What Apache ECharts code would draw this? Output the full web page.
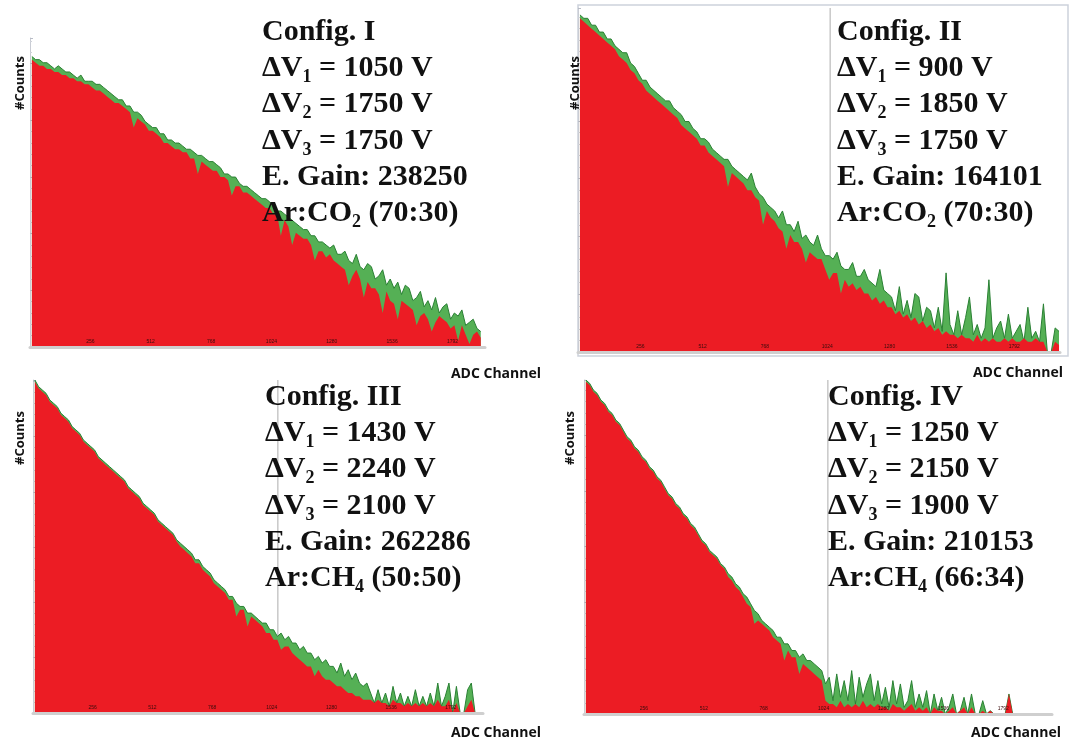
<!DOCTYPE html>
<html><head><meta charset="utf-8">
<script src="https://cdn.jsdelivr.net/npm/echarts@6/dist/echarts.min.js"></script>
<style>html,body{margin:0;padding:0;background:#fff}#c{width:1072px;height:744px}</style>
</head><body><div id="c"></div>
<script>
// ---------- data ----------
const BIN = 16; // ADC channels per histogram bin
const tickLabels = [256, 512, 768, 1024, 1280, 1536, 1792];
const configNames = ['Config. I', 'Config. II', 'Config. III', 'Config. IV'];
const dV1 = ['1050', '900', '1430', '1250'];
const dV2 = ['1750', '1850', '2240', '2150'];
const dV3 = ['1750', '1750', '2100', '1900'];
const gains = ['238250', '164101', '262286', '210153'];
const gasMain = ['Ar:CO', 'Ar:CO', 'Ar:CH', 'Ar:CH'];
const gasSub = ['2', '2', '4', '4'];
const gasRatio = [' (70:30)', ' (70:30)', ' (50:50)', ' (66:34)'];
const cursorChannel = [null, 1036, 1050, 1042];

const green1 = [94,93,93,92,92,91,90,91,90,89, 89,88,87,88,86,86,86,85,85,84, 83,82,81,80,80,78,78,76,76,75,
 73,72,71,71,69,69,67,67,66,66, 65,64,64,63,62,62,61,60,60,59, 58,56,56,55,55,53,52,52,51,50,
 49,48,48,47,46,44,44,43,42,41, 40,39,38,38,36,36,34,34,33,32, 33,30,30,31,28,27,30,26,25,27,
 26,22,23,25,20,22,19,21,17,20, 19,15,16,18,13,15,12,16,11,13, 14,9,11,10,12,7,8,9,6,5];
const red1 = [93,92,91,91,90,90,89,89,88,88, 87,87,86,86,85,85,84,83,83,82, 81,80,79,79,78,77,76,71,74,73,
 72,70,70,69,68,66,66,65,64,64, 63,63,61,61,56,60,59,58,57,57, 55,55,54,49,52,52,50,50,49,48,
 47,46,45,45,43,43,36,41,39,33, 37,36,35,35,33,28,31,31,29,30, 28,27,26,25,20,23,25,22,16,21,
 19,19,17,11,18,15,14,9,15,14, 13,12,7,10,11,9,5,8,10,9, 8,6,7,2,7,4,1,4,5,3];

const green2 = [98,97,97,95,95,93,93,91,91,89, 88,87,87,84,83,81,79,79,77,76, 75,74,73,73,71,70,69,67,67,65,
 64,62,62,61,59,58,57,56,56,54, 53,52,51,50,52,48,46,45,43,42, 41,39,41,37,37,35,38,33,34,32,
 31,34,30,28,28,27,29,25,24,24, 26,22,22,24,21,20,19,24,18,17, 16,12,19,11,15,10,17,16,9,13,
 12,7,13,6,23,8,5,12,5,10, 16,5,8,4,7,21,4,7,9,4, 11,4,6,8,3,13,4,6,3,14, 0,0,7,6];
const red2 = [97,96,95,94,93,92,91,90,89,88, 86,85,84,82,81,79,78,76,75,74, 73,72,71,70,69,68,66,65,64,63,
 62,60,60,58,57,56,55,54,48,52, 51,50,49,47,47,45,44,37,41,39, 38,36,35,30,34,32,32,30,26,29,
 28,27,27,24,21,23,23,17,21,19, 20,18,19,17,17,15,16,14,15,13, 13,11,12,10,11,9,10,8,9,7,
 8,6,7,5,6,5,5,4,5,4, 4,3,5,3,4,3,4,3,3,4, 3,4,3,3,4,3,3,4,3,3, 0,0,3,2];

const green3 = [100,98,97,96,94,93,92,90,89,88, 86,85,84,82,81,80,79,77,76,75, 74,73,72,71,70,68,67,66,65,63,
 62,61,60,58,57,56,55,54,52,51, 50,49,48,46,46,44,43,42,40,39, 38,37,35,35,33,32,32,30,30,29,
 28,27,27,25,25,23,24,22,23,21, 21,19,20,18,18,16,17,15,16,14, 14,12,15,11,13,10,12,9,8,9,
 6,3,7,3,6,2,8,3,6,2, 5,2,7,2,5,2,6,2,9,2, 5,9,0,8,0,0,7,9,0];
const red3 = [99.5,97.5,96.5,95.5,93.5,92.5,91.5,89.5,88.5,87.5, 85.5,84.5,83.5,81.5,80.5,79.5,78.5,76.5,75.5,74.5,
 73.5,72.5,71.5,70.5,69.5,67.5,66.5,65.5,64.5,62.5, 61.5,60.5,59.5,57.5,56.5,55.5,54.5,53.5,51.5,50,
 49,48,47,45,45,43,42,41,39,38, 37,36,34,34,29,31,31,26,29,28,
 27,26,24,24,22,22,19,20,20,18, 17,16,15,14,14,11,13,11,10,10, 9,8,8,7,6,6,5,5,4,4,
 4,3,4,3,3,2,4,3,3,2, 3,2,3,2,3,2,3,2,4,2, 2,4,0,3,0,0,2,4,0];

const green4 = [100,99,97,96,94,93,91,90,88,87, 85,83,82,80,79,77,76,74,73,71, 70,68,66,65,63,62,60,59,57,56,
 54,52,51,49,48,47,45,44,42,41, 39,38,36,35,33,31,30,28,27,26, 25,23,23,21,21,19,19,17,18,16,
 16,15,14,13,9,11,4,12,5,10, 4,13,3,11,5,9,12,4,10,3, 8,2,10,3,9,2,4,10,2,6,
 2,7,0,6,1,5,0,2,6,0, 1,5,0,6,0,0,4,0,1,0, 0,0,0,6,0,0,0,0];
const red4 = [99.5,98.5,96.5,95.5,93.5,92.5,90.5,89.5,87.5,86.5, 84.5,82.5,81.5,79.5,78.5,76.5,75.5,73.5,72.5,70.5,
 69.5,67.5,65.5,64.5,62.5,61.5,59.5,58.5,56.5,55.5, 53.5,51.5,50.5,48.5,47.5,46.5,44.5,43.5,41,40,
 38,37,35,33,32,27,28,27,26,25, 23,22,21,16,19,17,17,12,15,14,
 13,12,11,10,4,3,3,2,4,2, 3,2,3,2,4,2,3,2,3,2, 2,1,3,2,2,1,2,3,1,2,
 1,2,0,2,1,1,0,1,2,0, 1,2,0,2,0,0,1,0,1,0, 0,0,0,6,0,0,0,0];

const greens = [green1, green2, green3, green4];
const reds = [red1, red2, red3, red4];

// ---------- layout (positions / styles) ----------
const layout = [
  {left: 30,  top: 38,  width: 455, height: 309, xMax: 1930, yInt: 18.35, text: [262, 13.7],  counts: [20, 83],  adc: [541, 374]},
  {left: 578, top: 8,   width: 482, height: 344, xMax: 1980, yInt: 16.8,  text: [837, 13.7],  counts: [575, 83], adc: [1063, 373]},
  {left: 33,  top: 380, width: 450, height: 333, xMax: 1930, yInt: 16.6,  text: [265, 378.7], counts: [20, 438], adc: [541, 733]},
  {left: 584, top: 380, width: 468, height: 334, xMax: 2000, yInt: 16.7,  text: [828, 378.7], counts: [570, 438], adc: [1061, 733]}
];

const RED = '#ec1c24', GREEN_FILL = '#55b055', GREEN_LINE = '#2a8034';
const grid = [], xAxis = [], yAxis = [], series = [], graphic = [];

graphic.push({type: 'rect', z: 0, shape: {x: 578, y: 5, width: 490, height: 351},
  style: {fill: 'none', stroke: '#cdd2dc', lineWidth: 1.5}});

layout.forEach((L, p) => {
  grid.push({left: L.left, top: L.top, width: L.width, height: L.height, containLabel: false});
  xAxis.push({type: 'value', gridIndex: p, min: 0, max: L.xMax, interval: 256, z: 10,
    axisLine: {show: true, onZero: false, lineStyle: {color: '#cfcfcf', width: 3}},
    axisTick: {show: false}, splitLine: {show: false},
    axisLabel: {inside: true, margin: 3, fontSize: 5, color: '#3a0c0c',
      formatter: v => tickLabels.includes(v) ? String(v) : ''}});
  yAxis.push({type: 'value', gridIndex: p, min: 0, max: 100, interval: L.yInt,
    axisLine: {show: true, lineStyle: {color: '#c9ccd4', width: 1}},
    axisTick: {show: true, inside: true, length: 3, lineStyle: {color: '#b8bcc6'}},
    minorTick: {show: true, splitNumber: 5, length: 2, lineStyle: {color: '#d0d3da'}},
    axisLabel: {show: false}, splitLine: {show: false}});
  if (cursorChannel[p] !== null) {
    series.push({type: 'line', xAxisIndex: p, yAxisIndex: p, z: 1, silent: true, symbol: 'none',
      data: [[cursorChannel[p], 0], [cursorChannel[p], 100]],
      lineStyle: {color: '#c8c8c8', width: 1.5}});
  }
  series.push({type: 'line', xAxisIndex: p, yAxisIndex: p, z: 2, silent: true, symbol: 'none',
    data: greens[p].map((v, i) => [i * BIN + BIN / 2, v]),
    lineStyle: {color: GREEN_LINE, width: 1}, areaStyle: {color: GREEN_FILL, opacity: 1}});
  series.push({type: 'line', xAxisIndex: p, yAxisIndex: p, z: 3, silent: true, symbol: 'none',
    data: reds[p].map((v, i) => [i * BIN + BIN / 2, v]),
    lineStyle: {width: 0, color: RED}, areaStyle: {color: RED, opacity: 1}});

  const txt = configNames[p] + '\n' +
    'ΔV{s|1} = ' + dV1[p] + ' V\n' +
    'ΔV{s|2} = ' + dV2[p] + ' V\n' +
    'ΔV{s|3} = ' + dV3[p] + ' V\n' +
    'E. Gain: ' + gains[p] + '\n' +
    gasMain[p] + '{s|' + gasSub[p] + '}' + gasRatio[p];
  graphic.push({type: 'text', z: 100, x: L.text[0], y: L.text[1],
    style: {text: txt, fill: '#111', font: 'bold 30px "Liberation Serif"', lineHeight: 36.3,
      align: 'left', textAlign: 'left', verticalAlign: 'top', textVerticalAlign: 'top',
      rich: {s: {fontSize: 18, fontWeight: 'bold', fontFamily: 'Liberation Serif', fill: '#111',
        verticalAlign: 'bottom', lineHeight: 18}}}});
  graphic.push({type: 'text', z: 100, x: L.counts[0], y: L.counts[1], rotation: Math.PI / 2,
    style: {text: '#Counts', fill: '#111', font: 'bold 13px "Open Sans"',
      align: 'center', textAlign: 'center', verticalAlign: 'middle', textVerticalAlign: 'middle'}});
  graphic.push({type: 'text', z: 100, x: L.adc[0], y: L.adc[1],
    style: {text: 'ADC Channel', fill: '#111', font: 'bold 14px "Open Sans"',
      align: 'right', textAlign: 'right', verticalAlign: 'middle', textVerticalAlign: 'middle'}});
});

const chart = echarts.init(document.getElementById('c'), null, {renderer: 'canvas'});
chart.setOption({animation: false, backgroundColor: '#fff', grid, xAxis, yAxis, series, graphic});
</script></body></html>
